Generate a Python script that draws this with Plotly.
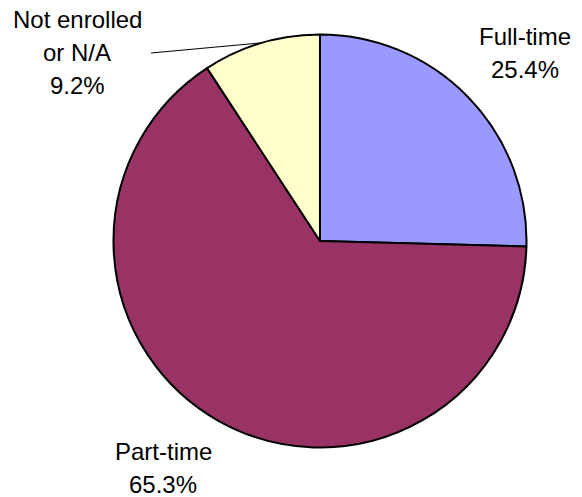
import plotly.graph_objects as go

labels = ["Full-time", "Part-time", "Not enrolled or N/A"]
label_lines = [["Full-time"], ["Part-time"], ["Not enrolled", "or N/A"]]
values = [25.4, 65.3, 9.2]
colors = ["#9999FF", "#993366", "#FFFFCC"]

W, H = 582, 497
cx, cy, r = 320, 241, 206.5

fig = go.Figure(go.Pie(
    labels=labels, values=values, sort=False, direction="clockwise", rotation=0,
    marker=dict(colors=colors, line=dict(color="black", width=2)),
    textinfo="none", hoverinfo="label+percent", showlegend=False,
    domain=dict(x=[(cx - r) / W, (cx + r) / W], y=[1 - (cy + r) / H, 1 - (cy - r) / H]),
))

# label block: (center x, first-line center y) in pixels
label_pos = [(525, 36), (163, 451), (77, 19)]
line_gap = 33
anns = []
for lines, v, (x, y) in zip(label_lines, values, label_pos):
    for i, t in enumerate(lines + [f"{v:.1f}%"]):
        anns.append(dict(x=x / W, y=1 - (y + i * line_gap) / H, xref="paper", yref="paper",
                         text=t, showarrow=False, xanchor="center", yanchor="middle",
                         font=dict(family="Liberation Sans, Arial", size=24, color="black")))

fig.update_layout(
    width=W, height=H, margin=dict(l=0, r=0, t=0, b=0),
    paper_bgcolor="white", plot_bgcolor="white",
    annotations=anns,
    shapes=[dict(type="line", xref="paper", yref="paper",
                 x0=151 / W, y0=1 - 53 / H, x1=260 / W, y1=1 - 43 / H,
                 line=dict(color="black", width=1))],
)
fig.write_html("out.html", config={"displayModeBar": False},
               post_script="document.body.style.margin='0';")
